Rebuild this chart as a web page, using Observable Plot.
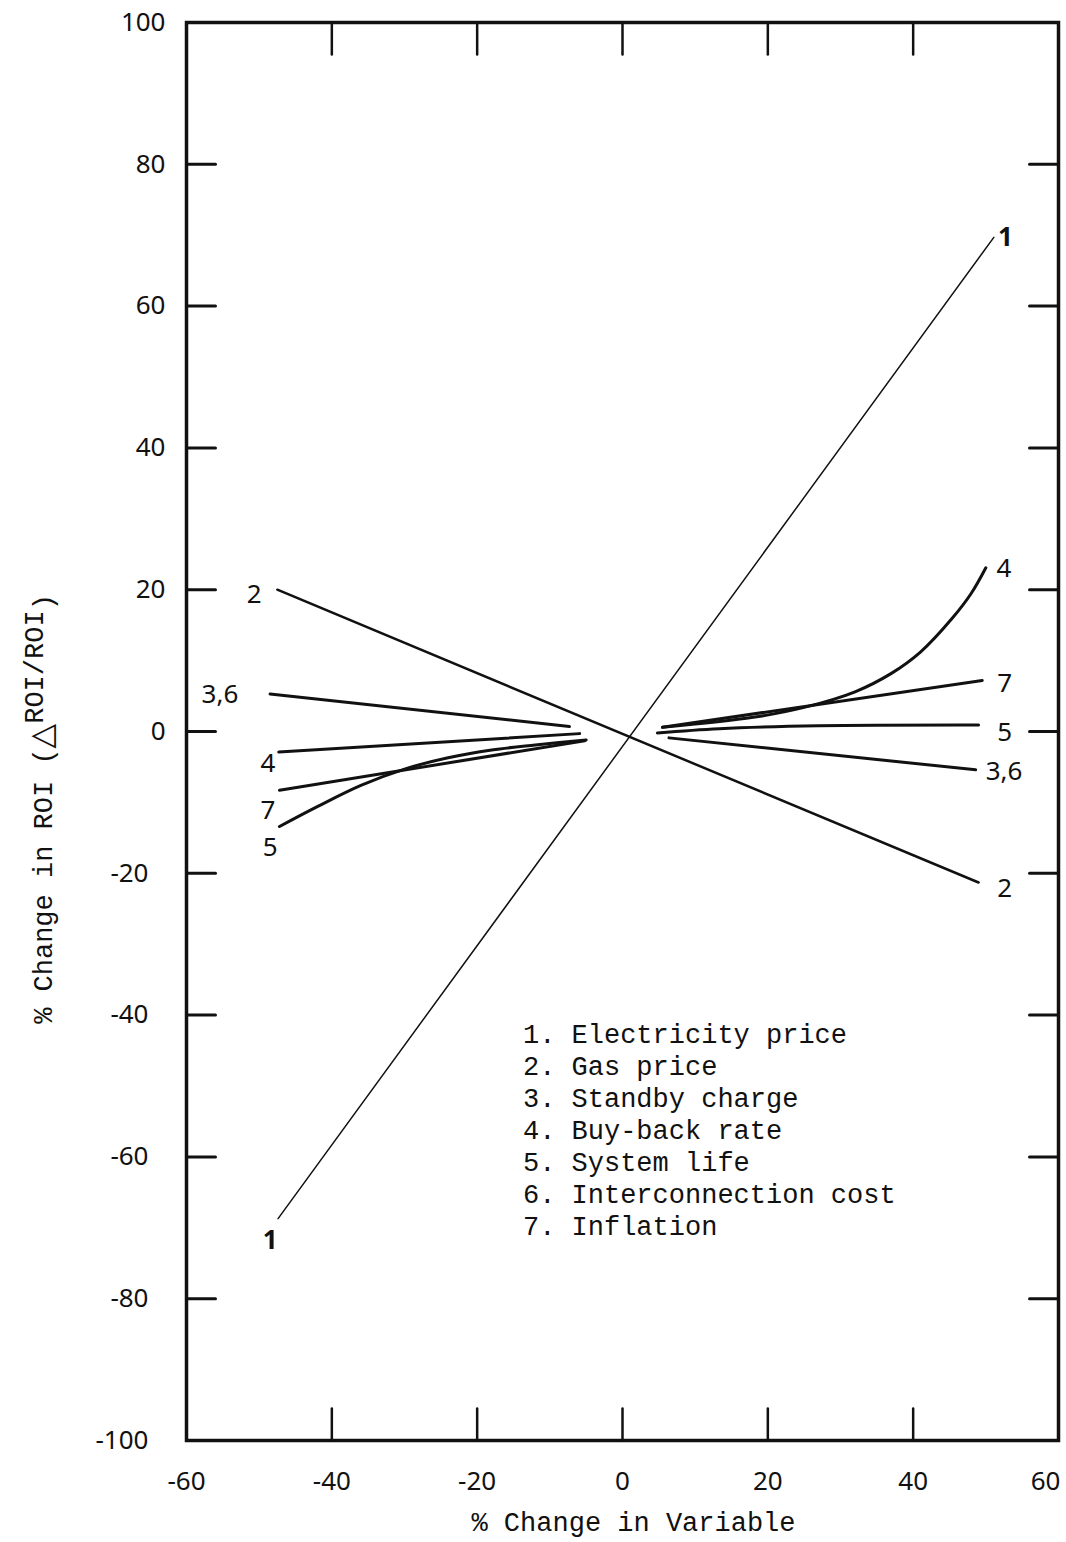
<!DOCTYPE html>
<html>
<head>
<meta charset="utf-8">
<script src="https://cdn.jsdelivr.net/npm/d3@7"></script>
<script src="https://cdn.jsdelivr.net/npm/@observablehq/plot@0.6"></script>
<style>
  html, body { margin: 0; padding: 0; background: #fff; }
  #chart svg { display: block; }
</style>
</head>
<body>
<div id="chart"></div>
<script>
// ---------- DATA ----------
// Tick values
const xTicks = [-60, -40, -20, 0, 20, 40, 60];
const yTicks = [100, 80, 60, 40, 20, 0, -20, -40, -60, -80, -100];
const xInnerTicks = [-40, -20, 0, 20, 40];
const yInnerTicks = [80, 60, 40, 20, 0, -20, -40, -60, -80];

// Series: [% change in variable, % change in ROI]
const electricityPrice = [[-47.4, -68.7], [51.1, 69.7]];
const gasPrice = [[-47.5, 20.0], [49.0, -21.3]];
const standbyInterconnLeft = [[-48.5, 5.3], [-7.3, 0.7]];
const standbyInterconnRight = [[6.4, -0.9], [48.6, -5.4]];
const buyBackLeft = [[-47.3, -2.9], [-5.9, -0.3]];
const buyBackRight = [[5.5, 0.6], [18, 2.0], [25, 3.4], [32, 5.6], [37, 8.2], [41, 11.2], [45.4, 16.0], [48, 19.5], [50, 23.1]];
const systemLifeLeft = [[-47.2, -13.4], [-42, -10.6], [-36, -7.6], [-30, -5.3], [-24, -3.7], [-18, -2.6], [-12, -1.9], [-5.0, -1.2]];
const systemLifeRight = [[4.8, -0.2], [13.3, 0.4], [27, 0.8], [49, 0.9]];
const inflationLeft = [[-47.2, -8.3], [-5.2, -1.3]];
const inflationRight = [[5.5, 0.6], [49.5, 7.2]];

// Legend entries
const legendNames = ["Electricity price", "Gas price", "Standby charge", "Buy-back rate", "System life", "Interconnection cost", "Inflation"];

// Curve end labels (text, x, y in data units)
const labelText = ["2", "3,6", "4", "7", "5", "1", "1", "4", "7", "5", "3,6", "2"];
const labelX = [-50.7, -55.4, -48.8, -48.8, -48.5, -48.5, 52.7, 52.5, 52.6, 52.6, 52.5, 52.6];
const labelY = [19.3, 5.2, -4.5, -11.1, -16.4, -71.8, 69.7, 23.0, 6.8, -0.1, -5.6, -22.1];

// ---------- BUILD ----------
const toRows = (pts, seg) => pts.map(([x, y]) => ({x, y, seg}));
const thinRows = toRows(electricityPrice, "1");
const mediumRows = toRows(gasPrice, "2");
const thickRows = [
  ...toRows(standbyInterconnLeft, "36L"), ...toRows(standbyInterconnRight, "36R"),
  ...toRows(buyBackLeft, "4L"), ...toRows(buyBackRight, "4R"),
  ...toRows(systemLifeLeft, "5L"), ...toRows(systemLifeRight, "5R"),
  ...toRows(inflationLeft, "7L"), ...toRows(inflationRight, "7R")
];
const labels = labelText.map((t, i) => ({text: t, x: labelX[i], y: labelY[i]}));
const legendText = legendNames.map((n, i) => `${i + 1}. ${n}`).join("\n");

const ink = "#111";
const tickShape = {draw(context, l) { context.moveTo(0, 0); context.lineTo(0, -l); }};
const mono = "'Liberation Mono', 'DejaVu Sans Mono', monospace";
const sans = "'Noto Sans', 'DejaVu Sans', sans-serif";
const fmt = d => String(d);
const tickFont = 26;

const plot = Plot.plot({
  width: 1066,
  height: 1542,
  marginLeft: 186,
  marginRight: 8,
  marginTop: 22,
  marginBottom: 102,
  style: {fontFamily: sans, fontSize: "26px", color: ink, background: "#fff"},
  x: {domain: [-60, 60], axis: null},
  y: {domain: [-100, 100], axis: null},
  marks: [
    Plot.frame({stroke: ink, strokeWidth: 3.5}),
    // tick labels
    Plot.axisY(yTicks.filter(d => d >= 0), {anchor: "left", tickSize: 0, tickPadding: 21, fontSize: tickFont, tickFormat: fmt, label: null}),
    Plot.axisY(yTicks.filter(d => d < 0), {anchor: "left", tickSize: 0, tickPadding: 21, dx: -17, fontSize: tickFont, tickFormat: fmt, label: null}),
    Plot.axisX(xTicks.slice(0, -1), {anchor: "bottom", tickSize: 0, tickPadding: 31, fontSize: tickFont, tickFormat: fmt, label: null}),
    Plot.axisX(xTicks.slice(-1), {anchor: "bottom", tickSize: 0, tickPadding: 31, fontSize: tickFont, tickFormat: fmt, textAnchor: "end", dx: 2, label: null}),
    // inward tick marks on all four sides
    Plot.vector(yInnerTicks, {y: d => d, frameAnchor: "left", rotate: 90, length: 29, anchor: "start", shape: tickShape, stroke: ink, strokeWidth: 3}),
    Plot.vector(yInnerTicks, {y: d => d, frameAnchor: "right", rotate: -90, length: 29, anchor: "start", shape: tickShape, stroke: ink, strokeWidth: 3}),
    Plot.vector(xInnerTicks, {x: d => d, frameAnchor: "top", rotate: 180, length: 32, anchor: "start", shape: tickShape, stroke: ink, strokeWidth: 2.5}),
    Plot.vector(xInnerTicks, {x: d => d, frameAnchor: "bottom", rotate: 0, length: 32, anchor: "start", shape: tickShape, stroke: ink, strokeWidth: 2.5}),
    // curves
    Plot.line(thinRows, {x: "x", y: "y", z: "seg", stroke: ink, strokeWidth: 1.5}),
    Plot.line(mediumRows, {x: "x", y: "y", z: "seg", stroke: ink, strokeWidth: 2.5}),
    Plot.line(thickRows, {x: "x", y: "y", z: "seg", stroke: ink, strokeWidth: 3, curve: "catmull-rom"}),
    // curve labels
    Plot.text(labels, {x: "x", y: "y", text: "text", fontSize: 26, fontFamily: sans, fill: ink, fontWeight: d => d.text === "1" ? "bold" : "normal"}),
    // legend
    Plot.text([legendText], {x: () => -13.7, y: () => -40.8, text: d => d, textAnchor: "start", lineAnchor: "top", lineHeight: 1.185, fontFamily: mono, fontSize: 27, fill: ink}),
    // x-axis title
    Plot.text(["% Change in Variable"], {frameAnchor: "bottom", dx: 11, dy: 90, text: d => d, fontFamily: mono, fontSize: 27, fill: ink})
  ]
});

// bold "1" labels (fontWeight is a constant option in Plot; apply per-text afterwards)
d3.select(plot).selectAll("text").filter(function() { return this.textContent === "1" && !this.closest('[aria-label*="axis"]'); })
  .attr("font-weight", "bold");

// Y-axis title with the ΔROI/ROI notation
const svg = d3.select(plot);
const yt = svg.append("text")
  .attr("transform", "translate(52,809) rotate(-90)")
  .attr("text-anchor", "middle")
  .attr("font-family", "'Liberation Mono', monospace")
  .attr("font-size", 27)
  .attr("fill", ink);
yt.append("tspan").text("% Change in ROI (");
yt.append("tspan").attr("font-family", "'DejaVu Sans', sans-serif").attr("font-size", 32).text("△");
yt.append("tspan").attr("dy", -9).text("ROI/ROI");
yt.append("tspan").attr("dy", 9).text(")");

document.getElementById("chart").appendChild(plot);
</script>
</body>
</html>
